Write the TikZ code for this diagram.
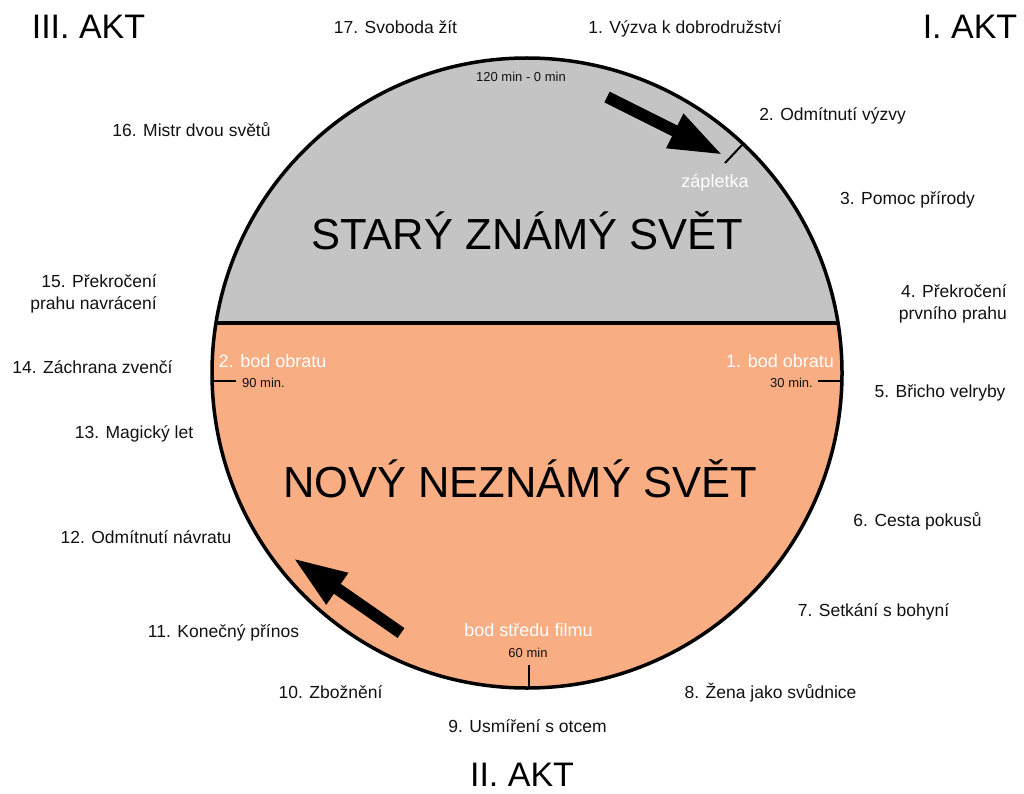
\documentclass[tikz,border=0pt]{standalone}
\usepackage{fontspec}
\setmainfont{Liberation Sans}
\usetikzlibrary{arrows.meta}
\definecolor{oldgrey}{HTML}{C4C4C4}
\definecolor{newpeach}{HTML}{F8AD83}
\definecolor{inkblack}{HTML}{111111}

\begin{document}
\begin{tikzpicture}[x=1pt, y=-1pt,
  lbl/.style={text=inkblack, anchor=base, inner sep=0pt, font=\fontsize{17.5}{22}\selectfont},
  wlbl/.style={text=white, anchor=base, inner sep=0pt, font=\fontsize{18}{22}\selectfont},
  minlbl/.style={text=inkblack, anchor=base, inner sep=0pt, font=\fontsize{13}{15}\selectfont},
  aktlbl/.style={text=black, anchor=base, inner sep=0pt, font=\fontsize{34}{40}\selectfont},
  worldlbl/.style={text=black, anchor=base, inner sep=0pt, font=\fontsize{43.5}{50}\selectfont},
  tick/.style={black, line width=2pt},
  bigarrow/.style={black, line width=12pt, -{Triangle[length=54pt, width=35pt]}}]

\useasboundingbox (0,0) rectangle (1024,794);

% Circle: new world below, old world above the chord
\coordinate (c) at (527,373);
\fill[newpeach] (c) circle (315pt);
\begin{scope}
  \clip (0,0) rectangle (1024,323);
  \fill[oldgrey] (c) circle (315pt);
\end{scope}
\begin{scope}
  \clip (c) circle (315pt);
  \draw[black, line width=4pt] (0,323) -- (1024,323);
\end{scope}
\draw[black, line width=3.5pt] (c) circle (315pt);

% Time ticks
\coordinate (zapin) at (725,163);
\coordinate (zapout) at (742,145);
\coordinate (lin) at (236,381);
\coordinate (lout) at (213,381);
\coordinate (rin) at (818,381);
\coordinate (rout) at (842,381);
\coordinate (bin) at (529,665);
\coordinate (bout) at (529,689);
\draw[tick] (zapin) -- (zapout);
\draw[tick] (lin) -- (lout);
\draw[tick] (rin) -- (rout);
\draw[tick] (bin) -- (bout);

% Direction arrows
\coordinate (toptail) at (607,97);
\coordinate (toptip) at (723,155);
\coordinate (bottail) at (401,633);
\coordinate (bottip) at (293,558);
\draw[bigarrow] (toptail) -- (toptip);
\draw[bigarrow] (bottail) -- (bottip);

% Worlds
\node[worldlbl] (old) at (527.5,249) {STARÝ ZNÁMÝ SVĚT};
\node[worldlbl] (new) at (520,497) {NOVÝ NEZNÁMÝ SVĚT};

% Turning points inside the circle
\node[minlbl] (t0) at (521,82) {120 min - 0 min};
\node[wlbl] (zap) at (715,188) {zápletka};
\node[wlbl] (bod2) at (272.5,367) {2. bod obratu};
\node[minlbl] (t90) at (263.5,387) {90 min.};
\node[wlbl] (bod1) at (780,367) {1. bod obratu};
\node[minlbl] (t30) at (791.5,387) {30 min.};
\node[wlbl] (mid) at (528.5,636) {bod středu filmu};
\node[minlbl] (t60) at (528,657) {60 min};

% Acts
\node[aktlbl] (akt3) at (88.5,39) {III. AKT};
\node[aktlbl] (akt1) at (970,39) {I. AKT};
\node[aktlbl] (akt2) at (522,786) {II. AKT};

% Stages of the journey
\node[lbl] (st1) at (685,34) {1. Výzva k dobrodružství};
\node[lbl] (st2) at (832.5,121) {2. Odmítnutí výzvy};
\node[lbl] (st3) at (907.5,205) {3. Pomoc přírody};
\node[lbl, align=right, anchor=base east] (st4) at (1007,319) {4. Překročení\\prvního prahu};
\node[lbl] (st5) at (940,397) {5. Břicho velryby};
\node[lbl] (st6) at (917.5,526) {6. Cesta pokusů};
\node[lbl] (st7) at (873.5,616) {7. Setkání s bohyní};
\node[lbl] (st8) at (770.5,698) {8. Žena jako svůdnice};
\node[lbl] (st9) at (527.5,732) {9. Usmíření s otcem};
\node[lbl] (st10) at (330.5,698) {10. Zbožnění};
\node[lbl] (st11) at (223.5,637) {11. Konečný přínos};
\node[lbl] (st12) at (146,543) {12. Odmítnutí návratu};
\node[lbl] (st13) at (134,438) {13. Magický let};
\node[lbl] (st14) at (92.5,373) {14. Záchrana zvenčí};
\node[lbl, align=right, anchor=base east] (st15) at (157,309) {15. Překročení\\prahu navrácení};
\node[lbl] (st16) at (191.5,137) {16. Mistr dvou světů};
\node[lbl] (st17) at (395.5,34) {17. Svoboda žít};

\end{tikzpicture}
\end{document}
